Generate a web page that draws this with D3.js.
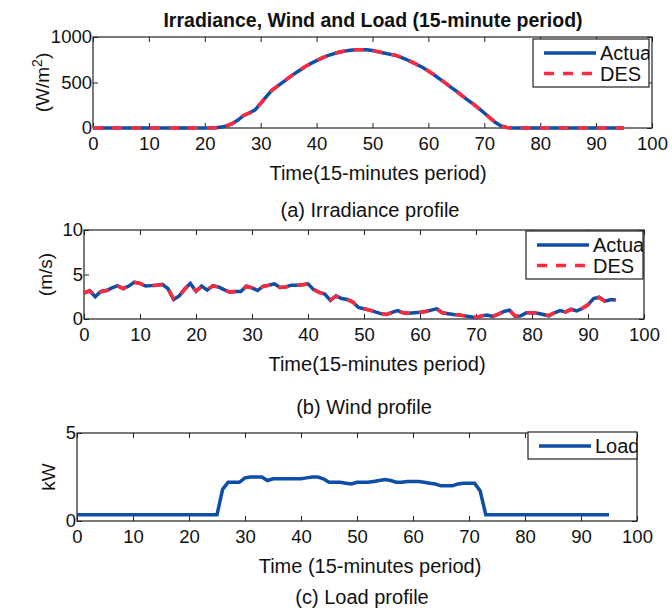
<!DOCTYPE html>
<html>
<head>
<meta charset="utf-8">
<script src="https://cdn.jsdelivr.net/npm/d3@7"></script>
<style>
  body { margin: 0; background: #fff; }
  text { font-family: "Liberation Sans", Arial, sans-serif; fill: #111; }
</style>
</head>
<body>
<script>
// x positions: 15-minute periods 0..95
var periods = d3.range(0, 96);
var xTicks = [0, 10, 20, 30, 40, 50, 60, 70, 80, 90, 100];

var irrActual = [0,0,0,0,0,0,0,0,0,0,0,0,0,0,0,0,0,0,0,0,0,0,2,10,25,50,90,140,165,200,
  270,345,415,460,505,550,595,635,675,710,740,770,795,815,832,845,855,860,860,860,
  852,838,825,812,800,780,755,725,695,665,625,585,540,495,450,405,355,310,265,215,
  165,110,60,22,5,0,0,0,0,0,0,0,0,0,0,0,0,0,0,0,0,0,0,0,0,0];
var irrDES = [0,0,0,0,0,0,0,0,0,0,0,0,0,0,0,0,0,0,0,0,0,0,3,11,26,52,92,140,166,202,
  272,346,415,461,506,551,596,636,676,711,741,771,796,816,833,846,856,861,861,860,
  853,839,826,813,801,781,756,726,696,666,626,586,541,496,451,406,356,311,266,216,
  166,111,61,23,6,0,0,0,0,0,0,0,0,0,0,0,0,0,0,0,0,0,0,0,0,0];
var irrTicks = [0, 500, 1000];

var windActual = [2.9,3.2,2.5,3.1,3.2,3.5,3.75,3.4,3.7,4.15,4.0,3.7,3.75,3.8,3.9,3.4,2.2,2.6,3.4,4.0,
  3.1,3.7,3.25,3.75,3.6,3.3,3.0,3.1,3.1,3.7,3.5,3.2,3.7,3.8,3.95,3.55,3.6,3.8,3.8,3.85,
  3.95,3.3,3.0,2.8,2.1,2.6,2.3,2.2,1.9,1.3,1.15,1.0,0.8,0.6,0.5,0.75,0.95,0.7,0.65,0.7,
  0.75,0.85,1.0,1.15,0.7,0.6,0.5,0.45,0.35,0.25,0.15,0.35,0.45,0.3,0.55,0.85,1.0,0.3,0.35,0.7,
  0.7,0.65,0.5,0.35,0.7,0.95,0.8,1.1,0.9,1.2,1.6,2.3,2.45,2.0,2.15,2.15];
var windDES = [2.95,3.15,2.55,3.05,3.2,3.45,3.7,3.45,3.7,4.1,4.0,3.7,3.75,3.8,3.85,3.45,2.25,2.55,3.35,3.95,
  3.15,3.65,3.3,3.7,3.6,3.3,3.05,3.1,3.1,3.65,3.5,3.25,3.65,3.8,3.9,3.55,3.6,3.75,3.8,3.85,
  3.9,3.35,3.0,2.8,2.15,2.55,2.3,2.2,1.9,1.35,1.15,1.0,0.8,0.6,0.5,0.75,0.9,0.7,0.65,0.7,
  0.75,0.85,1.0,1.1,0.7,0.6,0.5,0.45,0.35,0.25,0.2,0.35,0.45,0.3,0.55,0.85,0.95,0.35,0.35,0.7,
  0.7,0.65,0.5,0.4,0.7,0.9,0.8,1.05,0.9,1.2,1.6,2.25,2.4,2.0,2.15,2.15];
var windTicks = [0, 5, 10];

var load = [0.35,0.35,0.35,0.35,0.35,0.35,0.35,0.35,0.35,0.35,0.35,0.35,0.35,0.35,0.35,0.35,0.35,0.35,0.35,0.35,
  0.35,0.35,0.35,0.35,0.35,0.35,1.8,2.2,2.2,2.2,2.45,2.5,2.5,2.5,2.3,2.4,2.4,2.4,2.4,2.4,
  2.4,2.45,2.5,2.5,2.4,2.2,2.2,2.2,2.15,2.1,2.2,2.2,2.2,2.25,2.3,2.35,2.3,2.2,2.2,2.25,
  2.25,2.25,2.2,2.15,2.1,2.0,2.0,2.0,2.1,2.15,2.15,2.15,1.7,0.35,0.35,0.35,0.35,0.35,0.35,0.35,
  0.35,0.35,0.35,0.35,0.35,0.35,0.35,0.35,0.35,0.35,0.35,0.35,0.35,0.35,0.35,0.35];
var loadTicks = [0, 5];

var blue = "#0d4ea6";
var red = "#ff2a3c";

var svg = d3.select("body").append("svg")
    .attr("width", 672)
    .attr("height", 608);

// main title
svg.append("text")
    .attr("x", 373).attr("y", 27)
    .attr("text-anchor", "middle")
    .attr("font-size", "19.5px")
    .attr("font-weight", "bold")
    .text("Irradiance, Wind and Load (15-minute period)");

function drawPanel(p) {
    var x = d3.scaleLinear().domain([0, 100]).range([p.left, p.right]);
    var y = d3.scaleLinear().domain(p.yDomain).range([p.bottom, p.top]);
    var g = svg.append("g");

    // inward ticks, bottom/top/left/right (matlab box style)
    g.append("g").attr("transform", `translate(0,${p.bottom})`)
        .call(d3.axisBottom(x).tickValues(xTicks).tickSizeInner(-5).tickSizeOuter(0).tickPadding(9).tickFormat(d3.format("d")))
        .call(a => a.selectAll("text").attr("font-size", "18.5px").attr("fill", "#111"));
    g.append("g").attr("transform", `translate(0,${p.top})`)
        .call(d3.axisTop(x).tickValues(xTicks).tickSizeInner(-5).tickSizeOuter(0).tickFormat(""));
    g.append("g").attr("transform", `translate(${p.left},0)`)
        .call(d3.axisLeft(y).tickValues(p.yTicks).tickSizeInner(-5).tickSizeOuter(0).tickPadding(1).tickFormat(d3.format("d")))
        .call(a => a.selectAll("text").attr("font-size", "18.5px").attr("fill", "#111"));
    g.append("g").attr("transform", `translate(${p.right},0)`)
        .call(d3.axisRight(y).tickValues(p.yTicks).tickSizeInner(-5).tickSizeOuter(0).tickFormat(""));
    g.selectAll(".domain").remove();
    g.selectAll(".tick line").attr("stroke", "#222");

    g.append("rect")
        .attr("x", p.left).attr("y", p.top)
        .attr("width", p.right - p.left).attr("height", p.bottom - p.top)
        .attr("fill", "none").attr("stroke", "#222").attr("stroke-width", 1.2);

    var line = d3.line().x((d, i) => x(periods[i])).y(d => y(d));
    p.series.forEach(s => {
        g.append("path")
            .datum(s.values)
            .attr("d", line)
            .attr("fill", "none")
            .attr("stroke", s.color)
            .attr("stroke-width", 3.5)
            .attr("stroke-dasharray", s.dash || null);
    });

    // axis labels
    g.append("text")
        .attr("transform", `translate(${p.yLabelX},${(p.top + p.bottom) / 2}) rotate(-90)`)
        .attr("text-anchor", "middle")
        .attr("dy", "0.35em")
        .attr("font-size", "19px")
        .html(p.yLabel);
    g.append("text")
        .attr("x", p.xLabelX).attr("y", p.bottom + 52)
        .attr("text-anchor", "middle")
        .attr("font-size", "20px")
        .text(p.xLabel);
    g.append("text")
        .attr("x", p.capX).attr("y", p.capY)
        .attr("text-anchor", "middle")
        .attr("font-size", "20px")
        .text(p.caption);

    // legend
    var L = p.legend;
    var clipId = "clip" + p.id;
    svg.append("clipPath").attr("id", clipId)
        .append("rect").attr("x", L.x).attr("y", L.y).attr("width", L.w).attr("height", L.h);
    var lg = g.append("g");
    lg.append("rect")
        .attr("x", L.x).attr("y", L.y).attr("width", L.w).attr("height", L.h)
        .attr("fill", "#fff").attr("stroke", "#222").attr("stroke-width", 1.2);
    p.series.forEach((s, i) => {
        var ly = L.y + 14 + i * 20.5;
        lg.append("line")
            .attr("x1", L.x + 11).attr("x2", L.x + 63)
            .attr("y1", ly).attr("y2", ly)
            .attr("stroke", s.color).attr("stroke-width", 3.5)
            .attr("stroke-dasharray", s.dash || null);
        lg.append("text")
            .attr("x", L.x + 67).attr("y", ly)
            .attr("dy", "0.35em")
            .attr("font-size", "20px")
            .attr("clip-path", `url(#${clipId})`)
            .text(s.name);
    });
}

drawPanel({
    id: 1, left: 93, right: 652, top: 37, bottom: 128,
    yDomain: [0, 1000], yTicks: irrTicks,
    yLabel: '(W/m<tspan dy="-7" font-size="14px">2</tspan><tspan dy="7">)</tspan>', yLabelX: 42,
    xLabel: "Time(15-minutes period)", xLabelX: 378,
    caption: "(a) Irradiance profile", capX: 370, capY: 217,
    legend: { x: 533, y: 39, w: 116, h: 48 },
    series: [
        { name: "Actual", values: irrActual, color: blue },
        { name: "DES", values: irrDES, color: red, dash: "10,9" }
    ]
});

drawPanel({
    id: 2, left: 84, right: 644, top: 230, bottom: 319,
    yDomain: [0, 10], yTicks: windTicks,
    yLabel: "(m/s)", yLabelX: 45,
    xLabel: "Time(15-minutes period)", xLabelX: 377,
    caption: "(b) Wind profile", capX: 364, capY: 414,
    legend: { x: 526, y: 231, w: 117, h: 48 },
    series: [
        { name: "Actual", values: windActual, color: blue },
        { name: "DES", values: windDES, color: red, dash: "10,9" }
    ]
});

drawPanel({
    id: 3, left: 77, right: 637, top: 433, bottom: 521,
    yDomain: [0, 5], yTicks: loadTicks,
    yLabel: "kW", yLabelX: 48,
    xLabel: "Time (15-minutes period)", xLabelX: 370,
    caption: "(c) Load profile", capX: 362, capY: 604,
    legend: { x: 528, y: 432, w: 109, h: 27 },
    series: [
        { name: "Load", values: load, color: blue }
    ]
});
</script>
</body>
</html>
